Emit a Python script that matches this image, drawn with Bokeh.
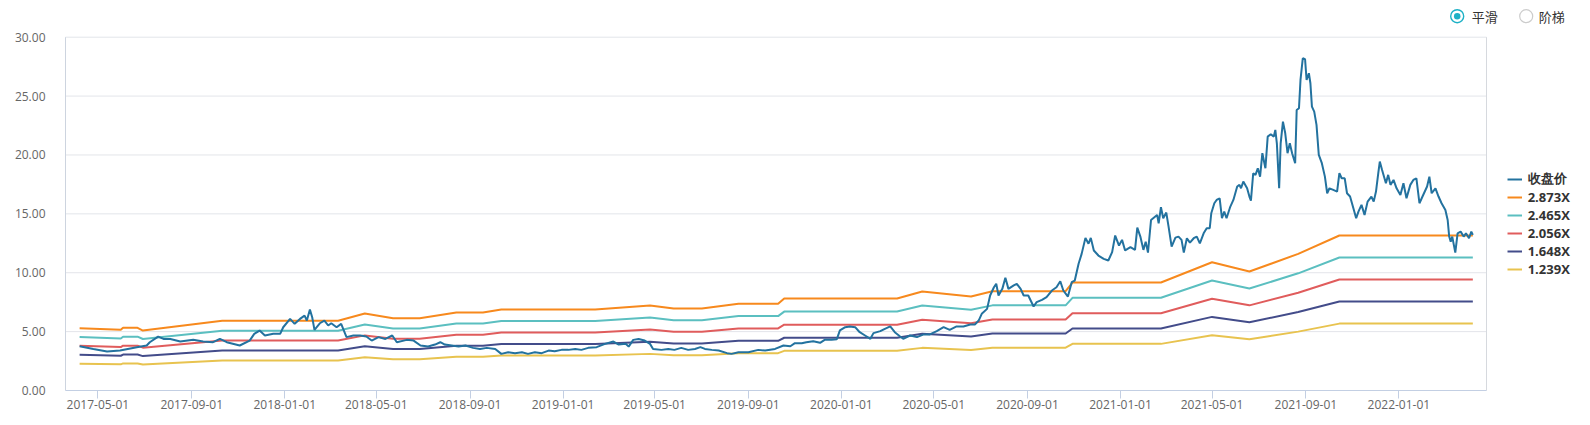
import pandas as pd
from bokeh.plotting import figure
from bokeh.models import (Range1d, FixedTicker, DatetimeTickFormatter, NumeralTickFormatter,
                          Legend, LegendItem, ColumnDataSource)
from bokeh.core.properties import value
from bokeh.embed import file_html
from bokeh.resources import INLINE

# ---------------- data ----------------
price_dates = [
    "2017-04-07", "2017-04-25", "2017-05-13", "2017-05-30", "2017-06-21", "2017-07-04", "2017-07-08",
    "2017-07-19", "2017-07-26", "2017-08-04", "2017-08-17", "2017-09-03", "2017-09-16", "2017-09-29",
    "2017-10-08", "2017-10-17", "2017-11-03", "2017-11-16", "2017-11-22", "2017-11-29", "2017-12-06",
    "2017-12-17", "2017-12-26", "2017-12-30", "2018-01-08", "2018-01-14", "2018-01-21", "2018-01-27",
    "2018-01-30", "2018-02-03", "2018-02-06", "2018-02-09", "2018-02-16", "2018-02-22", "2018-02-27",
    "2018-03-03", "2018-03-10", "2018-03-16", "2018-03-23", "2018-04-01", "2018-04-10", "2018-04-18",
    "2018-04-25", "2018-05-04", "2018-05-13", "2018-05-22", "2018-05-28", "2018-06-10", "2018-06-19",
    "2018-06-28", "2018-07-08", "2018-07-17", "2018-07-24", "2018-07-30", "2018-08-08", "2018-08-17",
    "2018-08-26", "2018-09-05", "2018-09-14", "2018-09-23", "2018-10-04", "2018-10-12", "2018-10-21",
    "2018-10-30", "2018-11-08", "2018-11-16", "2018-11-25", "2018-12-04", "2018-12-13", "2018-12-21",
    "2018-12-30", "2019-01-08", "2019-01-17", "2019-01-25", "2019-02-03", "2019-02-14", "2019-02-25",
    "2019-03-08", "2019-03-15", "2019-03-24", "2019-03-28", "2019-04-03", "2019-04-10", "2019-04-18",
    "2019-04-25", "2019-04-29", "2019-05-10", "2019-05-19", "2019-05-27", "2019-06-05", "2019-06-14",
    "2019-06-23", "2019-06-30", "2019-07-06", "2019-07-15", "2019-07-24", "2019-08-04", "2019-08-10",
    "2019-08-19", "2019-09-01", "2019-09-14", "2019-09-23", "2019-10-06", "2019-10-17", "2019-10-26",
    "2019-11-01", "2019-11-10", "2019-11-16", "2019-11-25", "2019-12-04", "2019-12-10", "2019-12-19",
    "2019-12-26", "2019-12-30", "2020-01-06", "2020-01-12", "2020-01-19", "2020-01-25", "2020-02-01",
    "2020-02-08", "2020-02-12", "2020-02-21", "2020-02-27", "2020-03-05", "2020-03-11", "2020-03-18",
    "2020-03-22", "2020-03-31", "2020-04-09", "2020-04-18", "2020-04-26", "2020-05-05", "2020-05-14",
    "2020-05-22", "2020-05-31", "2020-06-09", "2020-06-18", "2020-06-24", "2020-06-29", "2020-07-03",
    "2020-07-10", "2020-07-14", "2020-07-19", "2020-07-22", "2020-07-25", "2020-07-30", "2020-08-03",
    "2020-08-07", "2020-08-14", "2020-08-18", "2020-08-23", "2020-08-27", "2020-09-02", "2020-09-09",
    "2020-09-13", "2020-09-20", "2020-09-26", "2020-10-03", "2020-10-09", "2020-10-14", "2020-10-18",
    "2020-10-24", "2020-10-29", "2020-11-02", "2020-11-07", "2020-11-11", "2020-11-16", "2020-11-20",
    "2020-11-23", "2020-11-27", "2020-12-03", "2020-12-10", "2020-12-16", "2020-12-21", "2020-12-25",
    "2020-12-30", "2021-01-03", "2021-01-07", "2021-01-14", "2021-01-20", "2021-01-23", "2021-01-27",
    "2021-01-31", "2021-02-03", "2021-02-06", "2021-02-10", "2021-02-18", "2021-02-20", "2021-02-23",
    "2021-02-26", "2021-03-02", "2021-03-05", "2021-03-09", "2021-03-14", "2021-03-18", "2021-03-22",
    "2021-03-25", "2021-03-29", "2021-04-02", "2021-04-07", "2021-04-11", "2021-04-15", "2021-04-20",
    "2021-04-24", "2021-04-28", "2021-04-30", "2021-05-04", "2021-05-07", "2021-05-11", "2021-05-14",
    "2021-05-17", "2021-05-20", "2021-05-25", "2021-05-29", "2021-06-03", "2021-06-06", "2021-06-08",
    "2021-06-11", "2021-06-16", "2021-06-19", "2021-06-21", "2021-06-24", "2021-06-27", "2021-06-30",
    "2021-07-03", "2021-07-06", "2021-07-10", "2021-07-13", "2021-07-17", "2021-07-21", "2021-07-23",
    "2021-07-25", "2021-07-28", "2021-07-30", "2021-08-02", "2021-08-05", "2021-08-08", "2021-08-11",
    "2021-08-14", "2021-08-18", "2021-08-20", "2021-08-23", "2021-08-25", "2021-08-28", "2021-08-31",
    "2021-09-02", "2021-09-05", "2021-09-07", "2021-09-09", "2021-09-12", "2021-09-15", "2021-09-18",
    "2021-09-22", "2021-09-26", "2021-09-29", "2021-10-02", "2021-10-07", "2021-10-12", "2021-10-15",
    "2021-10-18", "2021-10-22", "2021-10-25", "2021-10-29", "2021-11-03", "2021-11-06", "2021-11-09",
    "2021-11-13", "2021-11-17", "2021-11-21", "2021-11-26", "2021-11-29", "2021-12-02", "2021-12-05",
    "2021-12-07", "2021-12-10", "2021-12-15", "2021-12-18", "2021-12-21", "2021-12-25", "2021-12-29",
    "2022-01-03", "2022-01-07", "2022-01-11", "2022-01-16", "2022-01-20", "2022-01-24", "2022-01-28",
    "2022-02-01", "2022-02-07", "2022-02-10", "2022-02-13", "2022-02-18", "2022-02-22", "2022-02-26",
    "2022-03-03", "2022-03-06", "2022-03-08", "2022-03-10", "2022-03-12", "2022-03-16", "2022-03-19",
    "2022-03-23", "2022-03-27", "2022-03-30", "2022-04-03", "2022-04-06", "2022-04-08",
]
price_values = [
    3.76, 3.53, 3.31, 3.39, 3.68, 3.82, 4.10,
    4.58, 4.38, 4.38, 4.16, 4.30, 4.16, 4.10,
    4.38, 4.10, 3.82, 4.24, 4.81, 5.09, 4.67,
    4.81, 4.81, 5.37, 6.08, 5.66, 6.08, 6.36,
    5.94, 6.87, 6.22, 5.15, 5.71, 5.94, 5.52,
    5.71, 5.37, 5.66, 4.53, 4.67, 4.67, 4.58,
    4.24, 4.53, 4.38, 4.67, 4.10, 4.30, 4.24,
    3.82, 3.73, 3.90, 4.10, 3.90, 3.82, 3.73,
    3.82, 3.62, 3.53, 3.62, 3.53, 3.11, 3.25,
    3.17, 3.25, 3.11, 3.25, 3.17, 3.39, 3.34,
    3.45, 3.45, 3.53, 3.45, 3.62, 3.68, 3.96,
    4.16, 3.90, 3.96, 3.73, 4.30, 4.38, 4.24,
    3.96, 3.53, 3.45, 3.53, 3.45, 3.62, 3.45,
    3.53, 3.68, 3.53, 3.45, 3.39, 3.17, 3.11,
    3.25, 3.25, 3.45, 3.39, 3.53, 3.82, 3.76,
    4.02, 4.02, 4.10, 4.19, 4.05, 4.30, 4.30,
    4.36, 5.10, 5.38, 5.44, 5.38, 4.95, 4.67,
    4.39, 4.87, 5.04, 5.24, 5.44, 4.95, 4.59,
    4.39, 4.67, 4.53, 4.76, 4.76, 5.04, 5.38,
    5.15, 5.44, 5.44, 5.61, 5.61, 5.94, 6.51,
    6.93, 8.07, 8.77, 9.06, 8.07, 8.63, 9.57,
    8.63, 8.92, 9.06, 8.63, 8.07, 8.07, 7.13,
    7.50, 7.70, 7.93, 8.49, 8.77, 9.28, 8.49,
    7.98, 9.20, 9.34, 10.76, 11.60, 12.96, 12.46,
    12.96, 11.89, 11.46, 11.18, 11.04, 11.75, 13.16,
    12.31, 12.79, 11.89, 12.17, 11.94, 13.83, 13.07,
    11.94, 12.64, 11.71, 14.48, 14.91, 14.20, 15.56,
    14.63, 15.11, 13.92, 12.22, 12.98, 13.07, 12.79,
    11.71, 12.93, 12.56, 12.93, 13.07, 12.50, 13.35,
    13.78, 13.78, 15.05, 15.90, 16.18, 16.32, 14.63,
    15.19, 14.63, 15.62, 16.18, 17.32, 17.46, 17.17,
    17.74, 17.17, 16.47, 16.13, 18.45, 18.31, 18.87,
    18.16, 20.15, 18.87, 21.56, 21.76, 21.56, 22.13,
    20.99, 17.17, 20.99, 22.83, 21.84, 20.15, 20.99,
    20.15, 19.30, 23.82, 23.97, 26.37, 28.21, 28.13,
    26.37, 26.94, 26.09, 24.11, 23.68, 22.55, 20.00,
    19.30, 18.16, 16.75, 17.17, 17.03, 16.89, 18.45,
    18.02, 18.02, 16.75, 16.47, 15.33, 14.63, 15.19,
    15.76, 14.91, 16.04, 16.47, 16.04, 16.89, 18.45,
    19.44, 18.73, 17.60, 18.31, 17.46, 17.88, 17.17,
    16.61, 17.60, 16.32, 17.46, 17.88, 18.02, 15.90,
    16.47, 17.32, 18.16, 16.75, 17.17, 16.47, 15.90,
    15.33, 14.48, 13.07, 12.64, 13.07, 11.71, 13.35,
    13.49, 13.07, 13.35, 12.93, 13.49, 13.21,
]

band_dates = [
    "2017-04-07", "2017-05-31", "2017-06-03", "2017-06-22", "2017-06-29", "2017-10-11", "2018-03-12",
    "2018-04-16", "2018-05-23", "2018-06-27", "2018-08-14", "2018-09-18", "2018-10-12", "2019-02-12",
    "2019-04-25", "2019-05-26", "2019-07-02", "2019-08-19", "2019-10-10", "2019-10-18", "2020-03-14",
    "2020-04-16", "2020-06-19", "2020-07-17", "2020-10-21", "2020-10-30", "2021-02-23", "2021-05-01",
    "2021-06-19", "2021-08-22", "2021-10-15", "2022-04-08",
]
band_2873 = [5.29, 5.15, 5.32, 5.32, 5.09, 5.92, 5.92, 6.54, 6.14, 6.14, 6.62, 6.62, 6.88, 6.88, 7.22, 6.96,
             6.96, 7.36, 7.36, 7.81, 7.81, 8.40, 7.98, 8.43, 8.43, 9.17, 9.17, 10.89, 10.10, 11.60, 13.16, 13.16]
band_2465 = [4.54, 4.42, 4.57, 4.57, 4.37, 5.08, 5.08, 5.61, 5.27, 5.27, 5.68, 5.68, 5.90, 5.90, 6.19, 5.97,
             5.97, 6.32, 6.32, 6.70, 6.70, 7.21, 6.85, 7.23, 7.23, 7.87, 7.87, 9.34, 8.66, 9.95, 11.29, 11.29]
band_2056 = [3.79, 3.69, 3.81, 3.81, 3.64, 4.24, 4.24, 4.68, 4.39, 4.39, 4.74, 4.74, 4.92, 4.92, 5.17, 4.98,
             4.98, 5.27, 5.27, 5.59, 5.59, 6.01, 5.71, 6.03, 6.03, 6.56, 6.56, 7.79, 7.23, 8.30, 9.42, 9.42]
band_1648 = [3.03, 2.95, 3.05, 3.05, 2.92, 3.40, 3.40, 3.75, 3.52, 3.52, 3.80, 3.80, 3.95, 3.95, 4.14, 3.99,
             3.99, 4.22, 4.22, 4.48, 4.48, 4.82, 4.58, 4.84, 4.84, 5.26, 5.26, 6.25, 5.79, 6.66, 7.55, 7.55]
band_1239 = [2.28, 2.22, 2.30, 2.30, 2.20, 2.55, 2.55, 2.82, 2.65, 2.65, 2.86, 2.86, 2.97, 2.97, 3.11, 3.00,
             3.00, 3.17, 3.17, 3.37, 3.37, 3.62, 3.44, 3.64, 3.64, 3.96, 3.96, 4.70, 4.36, 5.00, 5.68, 5.68]

price_label = "收盘价"
band_labels = ["2.873X", "2.465X", "2.056X", "1.648X", "1.239X"]
x_tick_labels = ["2017-05-01", "2017-09-01", "2018-01-01", "2018-05-01", "2018-09-01", "2019-01-01",
                 "2019-05-01", "2019-09-01", "2020-01-01", "2020-05-01", "2020-09-01", "2021-01-01",
                 "2021-05-01", "2021-09-01", "2022-01-01"]
y_ticks = [0, 5, 10, 15, 20, 25, 30]
radio_labels = ["平滑", "阶梯"]

# ---------------- style / layout ----------------
FONT = "Open Sans"
CJK = "Noto Sans CJK SC"
PRICE_COLOR = "#23729f"
BAND_COLORS = ["#f7891d", "#5bbfc0", "#e05c5c", "#434c8a", "#e8c34f"]
TEAL = "#1eb1c6"
GRID = "#e3e5ea"
BOX = "#d6d9de"
AXIS = "#c3cfe3"

FIG_W, FIG_H = 1590, 425
FRAME_LEFT, FRAME_BOTTOM = 60, 395          # drawing frame (page px)
BOX_LEFT, BOX_RIGHT = 65, 1486              # visible plot box (page px)
BOX_TOP, BOX_BOTTOM = 36.7, 390
Y_MAX = 30

box_x0 = pd.Timestamp("2017-03-19 12:00")
box_x1 = pd.Timestamp("2022-04-25 22:00")
px_per_ms = (BOX_RIGHT - BOX_LEFT) / (box_x1 - box_x0).total_seconds() / 1000
x_start = box_x0 - pd.Timedelta(milliseconds=(BOX_LEFT - FRAME_LEFT) / px_per_ms)
x_end = box_x1 + pd.Timedelta(milliseconds=(FIG_W - BOX_RIGHT) / px_per_ms)
px_per_unit = (BOX_BOTTOM - BOX_TOP) / Y_MAX
y_start = -(FRAME_BOTTOM - BOX_BOTTOM) / px_per_unit
y_end = Y_MAX + BOX_TOP / px_per_unit

p = figure(width=FIG_W, height=FIG_H, sizing_mode="fixed", x_axis_type="datetime",
           x_range=Range1d(x_start, x_end), y_range=Range1d(y_start, y_end),
           output_backend="svg", toolbar_location=None,
           min_border_left=FRAME_LEFT, min_border_right=0, min_border_top=0,
           min_border_bottom=FIG_H - FRAME_BOTTOM, outline_line_color=None)
# page-pixel ranges for the switch widgets
p.extra_x_ranges["px"] = Range1d(FRAME_LEFT, FIG_W)
p.extra_y_ranges["px"] = Range1d(FRAME_BOTTOM, 0)

# plot box and horizontal grid lines
grid_y = [t for t in y_ticks if t > 0]
p.segment(x0=[box_x0] * len(grid_y), x1=[box_x1] * len(grid_y), y0=grid_y, y1=grid_y,
          line_color=GRID, line_width=1)
p.segment(x0=[box_x1], x1=[box_x1], y0=[0], y1=[Y_MAX], line_color=BOX, line_width=1)
p.segment(x0=[box_x0], x1=[box_x0], y0=[0], y1=[Y_MAX], line_color="#cdd4df", line_width=1)
p.segment(x0=[box_x0], x1=[box_x1], y0=[0], y1=[0], line_color=AXIS, line_width=1)

# data lines
band_series = [band_2873, band_2465, band_2056, band_1648, band_1239]
band_renderers = []
for vals, col in zip(band_series, BAND_COLORS):
    src = ColumnDataSource(dict(x=pd.to_datetime(band_dates), y=vals))
    band_renderers.append(p.line("x", "y", source=src, line_color=col, line_width=2))
price_src = ColumnDataSource(dict(x=pd.to_datetime(price_dates), y=price_values))
price_r = p.line("x", "y", source=price_src, line_color=PRICE_COLOR, line_width=2)

# axes
p.xaxis.ticker = FixedTicker(ticks=[pd.Timestamp(t).value / 1e6 for t in x_tick_labels])
fmt = "%Y-%m-%d"
p.xaxis.formatter = DatetimeTickFormatter(milliseconds=fmt, seconds=fmt, minsec=fmt, minutes=fmt,
                                          hourmin=fmt, hours=fmt, days=fmt, months=fmt, years=fmt)
p.yaxis.ticker = FixedTicker(ticks=y_ticks)
p.yaxis.formatter = NumeralTickFormatter(format="0.00")
for ax in (p.xaxis[0], p.yaxis[0]):
    ax.major_label_text_font = FONT
    ax.major_label_text_font_size = "12px"
    ax.major_label_text_color = "#666666"
    ax.minor_tick_line_color = None
    ax.axis_line_color = None
p.xaxis.major_tick_line_color = AXIS
p.xaxis.major_tick_in = FRAME_BOTTOM - BOX_BOTTOM
p.xaxis.major_tick_out = 3
p.xaxis.major_label_standoff = 1
p.yaxis.major_tick_line_color = None
p.yaxis.major_label_standoff = 9
p.xgrid.visible = False
p.ygrid.visible = False

# legend (inside the drawing frame, right of the plot box)
items = [LegendItem(label=price_label, renderers=[price_r])]
for lab, r in zip(band_labels, band_renderers):
    items.append(LegendItem(label=lab, renderers=[r]))
legend = Legend(items=items, location=(1506.7 - FRAME_LEFT, 117), orientation="vertical",
                label_text_font=FONT, label_text_font_size="13px", label_text_font_style="bold",
                label_text_color="#333333", glyph_width=15, glyph_height=12, label_standoff=6,
                label_height=12, spacing=0, padding=0, margin=0, border_line_color=None,
                background_fill_alpha=0)
p.add_layout(legend)

# smooth / step switch at the top right
sw_x = [1456.7, 1525.7]
sw_y = [15.7, 15.7]
p.scatter(sw_x[:1], sw_y[:1], x_range_name="px", y_range_name="px", marker="circle", size=13,
          fill_color="white", line_color=TEAL, line_width=1.4)
p.scatter(sw_x[:1], sw_y[:1], x_range_name="px", y_range_name="px", marker="circle", size=6.5,
          fill_color=TEAL, line_color=None)
p.scatter(sw_x[1:], sw_y[1:], x_range_name="px", y_range_name="px", marker="circle", size=13,
          fill_color="white", line_color="#cccccc", line_width=1.2)
p.text([1471.2, 1538.3], sw_y, text=radio_labels, x_range_name="px", y_range_name="px",
       text_font=value(CJK), text_font_size="13px", text_color="#333333",
       text_baseline="middle", text_align="left")

open("out.html", "w").write(file_html(p, INLINE))
